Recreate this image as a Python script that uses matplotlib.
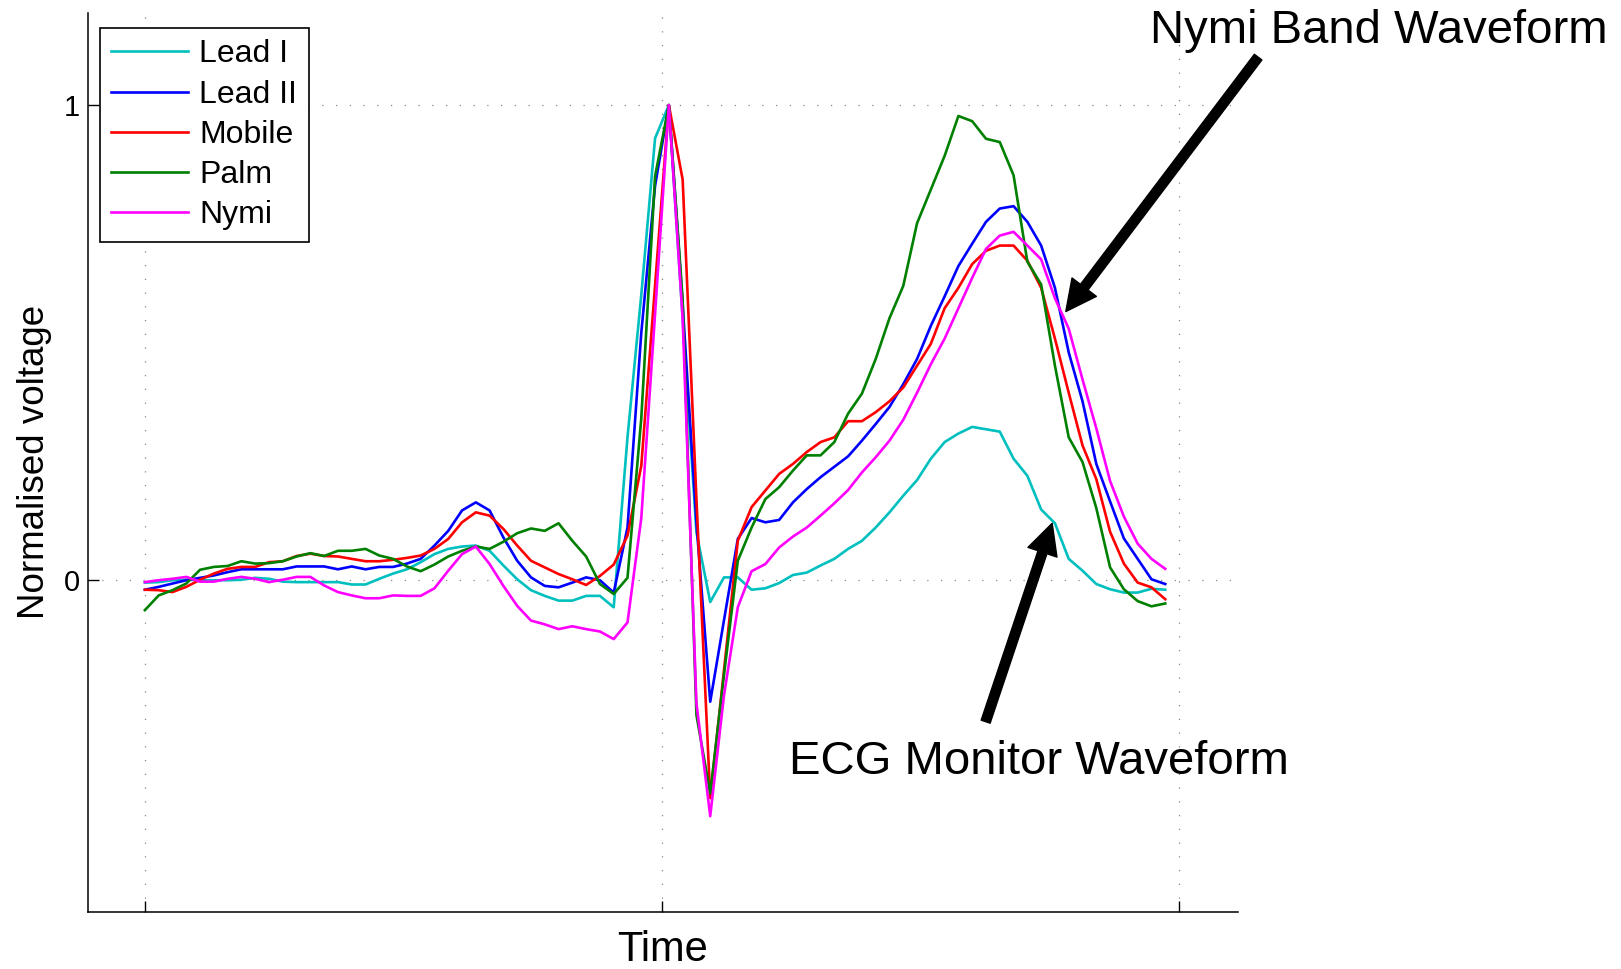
import matplotlib.pyplot as plt
import numpy as np

plt.rcParams['font.family'] = ['Liberation Sans', 'DejaVu Sans']

# samples at 125 Hz, R peak at sample 38
fs = 125.0

lead1 = [-0.006, -0.005, -0.001, 0.0, -0.001, -0.001, -0.001, 0.0, 0.004, 0.002,
         -0.004, -0.005, -0.005, -0.005, -0.005, -0.01, -0.01, 0.002, 0.013, 0.022,
         0.037, 0.054, 0.065, 0.07, 0.072, 0.061, 0.03, 0.001, -0.022, -0.034,
         -0.044, -0.044, -0.034, -0.034, -0.058, 0.3, 0.6, 0.93, 1.0, 0.55,
         0.1, -0.047, 0.005, 0.005, -0.021, -0.018, -0.007, 0.01, 0.015, 0.03,
         0.044, 0.065, 0.082, 0.11, 0.142, 0.177, 0.21, 0.255, 0.29, 0.308,
         0.322, 0.317, 0.312, 0.255, 0.219, 0.148, 0.119, 0.044, 0.019, -0.009,
         -0.02, -0.027, -0.027, -0.019, -0.021]

lead2 = [-0.021, -0.015, -0.008, -0.001, 0.004, 0.009, 0.016, 0.022, 0.022, 0.022,
         0.022, 0.028, 0.028, 0.028, 0.022, 0.028, 0.022, 0.027, 0.027, 0.034,
         0.044, 0.072, 0.103, 0.146, 0.163, 0.146, 0.089, 0.04, 0.005, -0.013,
         -0.016, -0.006, 0.005, -0.001, -0.027, 0.11, 0.52, 0.83, 1.0, 0.58,
         0.12, -0.257, -0.085, 0.086, 0.13, 0.121, 0.126, 0.163, 0.191, 0.216,
         0.238, 0.26, 0.293, 0.328, 0.364, 0.412, 0.465, 0.535, 0.597, 0.661,
         0.708, 0.754, 0.782, 0.787, 0.754, 0.704, 0.615, 0.479, 0.376, 0.244,
         0.165, 0.087, 0.044, 0.001, -0.009]

mobile = [-0.021, -0.022, -0.026, -0.015, 0.0, 0.013, 0.023, 0.027, 0.027, 0.037,
          0.039, 0.05, 0.055, 0.05, 0.049, 0.044, 0.039, 0.039, 0.042, 0.046,
          0.051, 0.065, 0.086, 0.121, 0.142, 0.135, 0.107, 0.072, 0.04, 0.026,
          0.012, 0.001, -0.011, 0.008, 0.032, 0.093, 0.24, 0.62, 1.0, 0.843,
          0.17, -0.46, -0.19, 0.082, 0.153, 0.188, 0.223, 0.244, 0.269, 0.29,
          0.3, 0.334, 0.334, 0.353, 0.376, 0.405, 0.451, 0.497, 0.572, 0.615,
          0.665, 0.693, 0.704, 0.704, 0.672, 0.615, 0.508, 0.394, 0.283, 0.212,
          0.101, 0.034, -0.006, -0.016, -0.041]

palm = [-0.064, -0.033, -0.022, -0.008, 0.021, 0.027, 0.029, 0.039, 0.034, 0.035,
        0.039, 0.049, 0.056, 0.05, 0.061, 0.061, 0.065, 0.051, 0.044, 0.028,
        0.018, 0.032, 0.049, 0.061, 0.07, 0.065, 0.08, 0.098, 0.108, 0.103,
        0.119, 0.082, 0.049, -0.009, -0.03, 0.004, 0.34, 0.85, 1.0, 0.59,
        -0.285, -0.45, -0.2, 0.04, 0.11, 0.17, 0.195, 0.23, 0.262, 0.262,
        0.29, 0.35, 0.392, 0.465, 0.551, 0.619, 0.751, 0.822, 0.893, 0.977,
        0.966, 0.929, 0.922, 0.852, 0.67, 0.622, 0.451, 0.30, 0.248, 0.151,
        0.026, -0.02, -0.045, -0.056, -0.05]

nymi = [-0.005, -0.001, 0.002, 0.006, -0.004, -0.004, 0.002, 0.006, 0.002, -0.005,
        0.0, 0.006, 0.006, -0.012, -0.026, -0.033, -0.039, -0.039, -0.033, -0.034,
        -0.034, -0.018, 0.019, 0.054, 0.07, 0.033, -0.013, -0.055, -0.086, -0.094,
        -0.104, -0.098, -0.104, -0.109, -0.125, -0.09, 0.13, 0.56, 1.0, 0.55,
        -0.26, -0.498, -0.243, -0.058, 0.018, 0.033, 0.068, 0.091, 0.11, 0.135,
        0.161, 0.189, 0.226, 0.258, 0.293, 0.337, 0.394, 0.454, 0.508, 0.572,
        0.636, 0.697, 0.725, 0.733, 0.704, 0.675, 0.593, 0.529, 0.422, 0.319,
        0.208, 0.133, 0.076, 0.044, 0.023]

names = ['Lead I', 'Lead II', 'Mobile', 'Palm', 'Nymi']
colors = ['#00BFBF', '#0000FF', '#FF0000', '#008000', '#FF00FF']

t = np.arange(len(lead1)) / fs

fig = plt.figure(figsize=(16.21, 9.69), dpi=100)
ax = fig.add_axes([0.0543, 0.0588, 0.7092, 0.9283])

for y, name, c in zip([lead1, lead2, mobile, palm, nymi], names, colors):
    ax.plot(t, y, color=c, lw=1.9, label=name)

ax.set_xlim(-0.033, 0.634)
ax.set_ylim(-0.70, 1.195)
ax.set_xticks([0, 0.3, 0.6])
ax.set_xticklabels([])
ax.set_yticks([0, 1])
ax.tick_params(direction='in', length=8, width=1, labelsize=21, pad=6)
ax.grid(True, linestyle=(0, (1, 10)), color='#888888', lw=0.9)

ax.spines['top'].set_visible(False)
ax.spines['right'].set_visible(False)
for s in ['left', 'bottom']:
    ax.spines[s].set_linewidth(1.1)

ax.set_xlabel('Time', fontsize=30, labelpad=7)
ax.set_ylabel('Normalised voltage', fontsize=26.5, labelpad=8)

leg = ax.legend(loc='upper left', bbox_to_anchor=(0.0104, 0.9828), borderaxespad=0,
                fontsize=23, fancybox=False, framealpha=1, edgecolor='black',
                handlelength=2.4, labelspacing=0.32, borderpad=0.36, handletextpad=0.35)
leg.get_frame().set_linewidth(1.2)

arrow = dict(facecolor='black', edgecolor='black', width=6.8, headwidth=22,
             headlength=22, shrink=0)
ax.annotate('', xy=(0.5343, 0.565), xytext=(0.6459, 1.101), arrowprops=arrow,
            annotation_clip=False)
ax.annotate('', xy=(0.5264, 0.119), xytext=(0.4878, -0.299), arrowprops=arrow,
            annotation_clip=False)
ax.text(0.716, 1.156, 'Nymi Band Waveform', fontsize=34, ha='center', va='center')
ax.text(0.5188, -0.385, 'ECG Monitor Waveform', fontsize=34, ha='center', va='center')

fig.savefig('out.png', dpi=100)
